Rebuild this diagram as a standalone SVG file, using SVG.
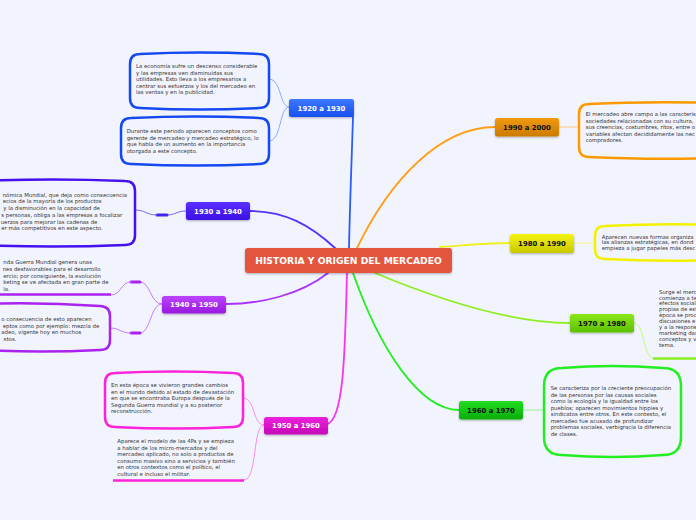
<svg xmlns="http://www.w3.org/2000/svg" width="696" height="520" viewBox="0 0 696 520">
<defs>
<style>
.t{font-family:"DejaVu Sans","Verdana",sans-serif;font-size:5.4px;fill:#333}
.n{font-family:"DejaVu Sans","Verdana",sans-serif;font-size:6.9px;font-weight:bold;text-anchor:middle}
.w{fill:#fff}
.k{fill:#111}
.c{fill:none;stroke-width:1.8;stroke-linecap:round}
.s{fill:none;stroke-width:1;stroke-linecap:round}
.th{fill:none;stroke-width:3;stroke-linecap:round}
.b{fill:#f2f4fd;stroke-width:2.5}
</style>
<filter id="sh" x="-20%" y="-30%" width="140%" height="170%"><feDropShadow dx="0" dy="1" stdDeviation="0.8" flood-color="#000" flood-opacity="0.3"/></filter>
<linearGradient id="g1" x1="0" y1="0" x2="0" y2="1"><stop offset="0" stop-color="#3d78ff"/><stop offset="1" stop-color="#1650ee"/></linearGradient>
<linearGradient id="g2" x1="0" y1="0" x2="0" y2="1"><stop offset="0" stop-color="#5a30ff"/><stop offset="1" stop-color="#3a10e6"/></linearGradient>
<linearGradient id="g3" x1="0" y1="0" x2="0" y2="1"><stop offset="0" stop-color="#bb44ff"/><stop offset="1" stop-color="#9a18e0"/></linearGradient>
<linearGradient id="g4" x1="0" y1="0" x2="0" y2="1"><stop offset="0" stop-color="#ee22dd"/><stop offset="1" stop-color="#c408b8"/></linearGradient>
<linearGradient id="g5" x1="0" y1="0" x2="0" y2="1"><stop offset="0" stop-color="#f09a10"/><stop offset="1" stop-color="#cc7a00"/></linearGradient>
<linearGradient id="g6" x1="0" y1="0" x2="0" y2="1"><stop offset="0" stop-color="#f4f410"/><stop offset="1" stop-color="#c8c800"/></linearGradient>
<linearGradient id="g7" x1="0" y1="0" x2="0" y2="1"><stop offset="0" stop-color="#8ae81a"/><stop offset="1" stop-color="#5cc000"/></linearGradient>
<linearGradient id="g8" x1="0" y1="0" x2="0" y2="1"><stop offset="0" stop-color="#22dd22"/><stop offset="1" stop-color="#0aad0a"/></linearGradient>
</defs>
<rect x="0" y="0" width="696" height="520" fill="#f2f4fd"/>

<g id="connectors">
<path class="c" stroke="#2a5cff" d="M349,248 C350,200 352,150 353,117"/>
<path class="c" stroke="#ff9f1a" d="M357,248 C390,180 440,127 495,127"/>
<path class="c" stroke="#5533ff" d="M335,248 C310,225 285,211 250,211"/>
<path class="c" stroke="#f0f020" d="M440,247 C470,245 490,243 510,243"/>
<path class="c" stroke="#aa33ff" d="M328,273 C300,295 260,304 226,304"/>
<path class="c" stroke="#ff33ee" d="M347,273 C345,340 345,420 327,424"/>
<path class="c" stroke="#22ee22" d="M353,273 C380,350 420,410 459,410"/>
<path class="c" stroke="#8eee22" d="M375,273 C440,300 510,323 570,323"/>

<path class="s" stroke="#88aaff" d="M289,107 C279,107 282,79 269,79"/>
<path class="s" stroke="#88aaff" d="M289,107 C279,107 282,141 269,141"/>
<path class="s" stroke="#7766ff" d="M186,211 C176,211 176,215 167,215"/>
<path class="th" stroke="#4422ee" d="M167,215 L157,215"/>
<path class="s" stroke="#7766ff" d="M157,215 C146,215 146,210 135,210"/>
<path class="s" stroke="#cc77ff" d="M162,304 C150,304 151,282 140,282"/>
<path class="th" stroke="#aa22ee" d="M140,282 L131,282"/>
<path class="s" stroke="#cc77ff" d="M131,282 C120,282 122,295 111,295"/>
<path class="s" stroke="#cc77ff" d="M162,304 C150,304 151,333 140,333"/>
<path class="th" stroke="#aa22ee" d="M140,333 L131,333"/>
<path class="s" stroke="#cc77ff" d="M131,333 C120,333 120,328 110,328"/>
<path class="s" stroke="#ff88ee" d="M264,425 C252,425 256,398 243,398"/>
<path class="s" stroke="#ff88ee" d="M264,425 C252,425 258,480 244,480"/>
<path class="s" stroke="#ffc880" d="M559,127 L579,127"/>
<path class="s" stroke="#f4f488" d="M574,243 L595,243"/>
<path class="s" stroke="#bbff77" d="M634,323 C645,323 643,358 653,358"/>
<path class="s" stroke="#99ee99" d="M523,410 L544,410"/>
</g>

<g id="central">
<rect x="245" y="248" width="207" height="25" rx="3" fill="#e4543c" filter="url(#sh)"/>
<text x="348.5" y="264.2" class="n w" style="font-size:9.2px">HISTORIA Y ORIGEN DEL MERCADEO</text>
</g>

<g id="n1920">
<rect x="289" y="99" width="65" height="18" rx="2.5" fill="url(#g1)" filter="url(#sh)"/>
<text x="321.5" y="110.5" class="n w">1920 a 1930</text>
</g>
<g id="n1930">
<rect x="186" y="202" width="64" height="18" rx="2.5" fill="url(#g2)" filter="url(#sh)"/>
<text x="218" y="213.5" class="n w">1930 a 1940</text>
</g>
<g id="n1940">
<rect x="162" y="296" width="64" height="17.5" rx="2.5" fill="url(#g3)" filter="url(#sh)"/>
<text x="194" y="307.3" class="n w">1940 a 1950</text>
</g>
<g id="n1950">
<rect x="264" y="417" width="64" height="17.5" rx="2.5" fill="url(#g4)" filter="url(#sh)"/>
<text x="296" y="428.3" class="n w">1950 a 1960</text>
</g>
<g id="n1990">
<rect x="495" y="118" width="64" height="18.5" rx="2.5" fill="url(#g5)" filter="url(#sh)"/>
<text x="527" y="129.7" class="n k">1990 a 2000</text>
</g>
<g id="n1980">
<rect x="510" y="234" width="64" height="19" rx="2.5" fill="url(#g6)" filter="url(#sh)"/>
<text x="542" y="246" class="n k">1980 a 1990</text>
</g>
<g id="n1970">
<rect x="570" y="314" width="64" height="18.5" rx="2.5" fill="url(#g7)" filter="url(#sh)"/>
<text x="602" y="325.7" class="n k">1970 a 1980</text>
</g>
<g id="n1960">
<rect x="459" y="401" width="64" height="18.5" rx="2.5" fill="url(#g8)" filter="url(#sh)"/>
<text x="491" y="412.7" class="n k">1960 a 1970</text>
</g>

<g id="d1920a">
<path class="b" stroke="#1448f0" d="M140,54 Q199.5,51 259,54 Q269,54 269,64 L269,98 Q269,108 259,108 Q199.5,111 140,108 Q130,108 130,98 L130,64 Q130,54 140,54 Z"/>
<text class="t" x="136" y="68">La economía sufre un descenso considerable</text>
<text class="t" x="136" y="74.6">y las empresas ven disminuidas sus</text>
<text class="t" x="136" y="81.2">utilidades. Esto lleva a los empresarios a</text>
<text class="t" x="136" y="87.8">centrar sus esfuerzos y los del mercadeo en</text>
<text class="t" x="136" y="94.4">las ventas y en la publicidad.</text>
</g>
<g id="d1920b">
<path class="b" stroke="#1448f0" d="M131,118 Q195,115 259,118 Q269,118 269,128 L269,154 Q269,164 259,164 Q195,167 131,164 Q121,164 121,154 L121,128 Q121,118 131,118 Z"/>
<text class="t" x="126.7" y="133">Durante este periodo aparecen conceptos como</text>
<text class="t" x="126.7" y="139.6">gerente de mercadeo y mercadeo estratégico, lo</text>
<text class="t" x="126.7" y="146.2">que habla de un aumento en la importancia</text>
<text class="t" x="126.7" y="152.8">otorgada a este concepto.</text>
</g>
<g id="d1930">
<path class="b" stroke="#4411ee" d="M-20,181 Q52.5,178 125,181 Q135,181 135,191 L135,235 Q135,245 125,245 Q52.5,248 -20,245 L-30,245 L-30,181 Z"/>
<text class="t" x="2.7" y="197">nómica Mundial, que deja como consecuencia</text>
<text class="t" x="2.7" y="203.4">ecios de la mayoría de los productos</text>
<text class="t" x="3.3" y="210.2">y la disminución en la capacidad de</text>
<text class="t" x="1.3" y="216.9">s personas, obliga a las empresas a focalizar</text>
<text class="t" x="0.7" y="223.6">uerzos para mejorar las cadenas de</text>
<text class="t" x="1.3" y="230.2">er más competitivos en este aspecto.</text>
</g>
<g id="d1940a">
<path fill="none" stroke="#aa22ee" stroke-width="2.5" d="M-5,294.5 L111,294.5"/>
<text class="t" x="3.3" y="264.2">nda Guerra Mundial genera unas</text>
<text class="t" x="2.7" y="270.9">nes desfavorables para el desarrollo</text>
<text class="t" x="3.3" y="277.6">ercio; por consiguiente, la evolución</text>
<text class="t" x="3.3" y="284.2">keting se ve afectada en gran parte de</text>
<text class="t" x="3.3" y="290.9">la.</text>
</g>
<g id="d1940b">
<path class="b" stroke="#aa22ee" d="M-20,304 Q40,302 100,306 Q110,306.5 110,316 L110,340 Q110,350 100,350 Q40,353 -20,350 L-30,350 L-30,304 Z"/>
<text class="t" x="1.3" y="320.9">o consecuencia de esto aparecen</text>
<text class="t" x="2.7" y="327.6">eptos como por ejemplo: mezcla de</text>
<text class="t" x="1.3" y="334.2">adeo, vigente hoy en muchos</text>
<text class="t" x="3.3" y="340.9">xtos.</text>
</g>
<g id="d1950a">
<path class="b" stroke="#ff22dd" d="M115,373 Q174,370 233,373 Q243,373 243,383 L243,417 Q243,427 233,427 Q174,430 115,427 Q105,427 105,417 L105,383 Q105,373 115,373 Z"/>
<text class="t" x="111" y="387">En esta época se vivieron grandes cambios</text>
<text class="t" x="111" y="393.6">en el mundo debido al estado de devastación</text>
<text class="t" x="111" y="400.2">en que se encontraba Europa después de la</text>
<text class="t" x="111" y="406.8">Segunda Guerra mundial y a su posterior</text>
<text class="t" x="111" y="413.4">reconstrucción.</text>
</g>
<g id="d1950b">
<path fill="none" stroke="#ff22dd" stroke-width="2.5" d="M113,480.5 L244,480.5"/>
<text class="t" x="117.3" y="443">Aparece el modelo de las 4Ps y se empieza</text>
<text class="t" x="117.3" y="449.6">a hablar de los micro-mercados y del</text>
<text class="t" x="117.3" y="456.2">mercadeo aplicado, no solo a productos de</text>
<text class="t" x="117.3" y="462.8">consumo masivo sino a servicios y también</text>
<text class="t" x="117.3" y="469.4">en otros contextos como el político, el</text>
<text class="t" x="117.3" y="476">cultural e incluso el militar.</text>
</g>
<g id="d1990">
<path class="b" stroke="#ff9900" d="M589,104 Q650,101 720,103 L720,158 Q650,160 589,157 Q579,157 579,147 L579,114 Q579,104 589,104 Z"/>
<text class="t" x="585.7" y="116">El mercadeo abre campo a las caracterís</text>
<text class="t" x="585.7" y="122.6">sociedades relacionadas con su cultura,</text>
<text class="t" x="585.7" y="129.2">sus creencias, costumbres, ritos, entre o</text>
<text class="t" x="585.7" y="135.8">variables afectan decididamente las nec</text>
<text class="t" x="585.7" y="142.4">compradores.</text>
</g>
<g id="d1980">
<path class="b" stroke="#f2f200" d="M605,226 Q660,223 720,225 L720,260 Q660,262 605,259 Q595,259 595,249 L595,236 Q595,226 605,226 Z"/>
<text class="t" x="601.7" y="238.6">Aparecen nuevas formas organiza</text>
<text class="t" x="601.7" y="244.4">las alianzas estratégicas, en dond</text>
<text class="t" x="601.7" y="250.2">empieza a jugar papeles más desc</text>
</g>
<g id="d1970">
<path fill="none" stroke="#88ee22" stroke-width="2.5" d="M653,358.5 L700,358.5"/>
<text class="t" x="659" y="293.6">Surge el merc</text>
<text class="t" x="659" y="299.5">comienza a te</text>
<text class="t" x="659" y="305.4">efectos social</text>
<text class="t" x="659" y="311.3">propias de est</text>
<text class="t" x="659" y="317.2">época se proc</text>
<text class="t" x="659" y="323.1">discusiones e</text>
<text class="t" x="659" y="329">y a la respons</text>
<text class="t" x="659" y="334.9">marketing das</text>
<text class="t" x="659" y="340.8">conceptos y v</text>
<text class="t" x="659" y="346.7">tema.</text>
</g>
<g id="d1960">
<path class="b" stroke="#22ee22" d="M562,368 Q612.5,364 663,368 Q681,368 681,386 L681,437 Q681,455 663,455 Q612.5,459 562,455 Q544,455 544,437 L544,386 Q544,368 562,368 Z"/>
<text class="t" x="550.7" y="390.3">Se caracteriza por la creciente preocupación</text>
<text class="t" x="550.7" y="396.9">de las personas por las causas sociales</text>
<text class="t" x="550.7" y="403.3">como la ecología y la igualdad entre los</text>
<text class="t" x="550.7" y="409.6">pueblos; aparecen movimientos hippies y</text>
<text class="t" x="550.7" y="416.1">sindicatos entre otros. En este contexto, el</text>
<text class="t" x="550.7" y="422.7">mercadeo fue acusado de profundizar</text>
<text class="t" x="550.7" y="429.3">problemas sociales, verbigracia la diferencia</text>
<text class="t" x="550.7" y="435.9">de clases.</text>
</g>
</svg>
